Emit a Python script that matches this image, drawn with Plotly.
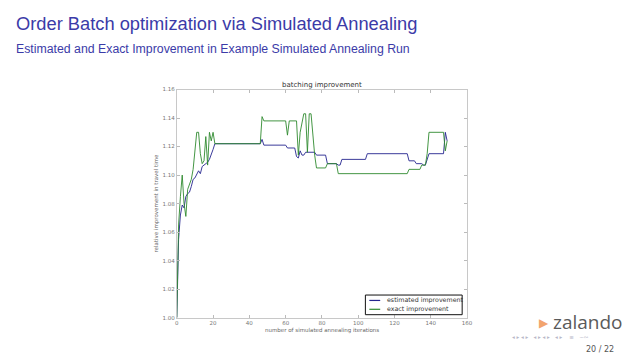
import plotly.graph_objects as go

# ---- data ----
est_iter = [0, 1, 2, 3, 4, 5, 6, 7, 8, 9, 10, 11, 12, 13, 14, 15, 16, 17, 18, 19, 20, 21,
            46, 47, 48, 60, 61, 65, 66, 67, 68, 69, 70, 71, 76, 77, 82, 83, 88, 89, 90,
            91, 104, 105, 127, 128, 131, 132, 135, 136, 137, 139, 147, 148, 149]
est_val = [1.000, 1.055, 1.072, 1.079, 1.077, 1.085, 1.087, 1.088, 1.092, 1.097, 1.098,
           1.101, 1.103, 1.101, 1.106, 1.107, 1.108, 1.109, 1.111, 1.114, 1.118, 1.122,
           1.122, 1.125, 1.121, 1.121, 1.119, 1.119, 1.113, 1.112, 1.117, 1.114, 1.114,
           1.116, 1.116, 1.114, 1.114, 1.108, 1.108, 1.107, 1.107, 1.111, 1.111, 1.115,
           1.115, 1.110, 1.110, 1.108, 1.108, 1.107, 1.107, 1.115, 1.115, 1.130, 1.124]

exact_iter = [0, 1, 2, 3, 4, 5, 6, 7, 8, 9, 10, 11, 12, 13, 14, 15, 16, 17, 18, 19, 20, 21,
              46, 47, 48, 60, 61, 62, 66, 67, 68, 70, 71, 72, 73, 74, 76, 77, 82, 83, 88,
              89, 127, 128, 134, 135, 137, 138, 139, 147, 148, 149]
exact_val = [1.000, 1.065, 1.085, 1.100, 1.080, 1.071, 1.090, 1.093, 1.097, 1.104, 1.120,
             1.130, 1.130, 1.115, 1.108, 1.110, 1.127, 1.107, 1.130, 1.124, 1.130, 1.122,
             1.122, 1.141, 1.138, 1.138, 1.128, 1.138, 1.138, 1.114, 1.130, 1.143, 1.143,
             1.116, 1.143, 1.143, 1.114, 1.105, 1.105, 1.108, 1.108, 1.101, 1.101, 1.104,
             1.104, 1.107, 1.107, 1.115, 1.130, 1.130, 1.117, 1.124]

series_names = ["estimated improvement", "exact improvement"]
series_colors = ["#25258f", "#2f8a2f"]

x_ticks = [0, 20, 40, 60, 80, 100, 120, 140, 160]
y_ticks = [1.00, 1.02, 1.04, 1.06, 1.08, 1.10, 1.12, 1.14, 1.16]

W, H = 638, 359
TITLE_COLOR = "#3b3ba8"


def px(x):
    return x / W


def py(y):
    return 1 - y / H


fig = go.Figure()
fig.add_trace(go.Scatter(x=est_iter, y=est_val, mode="lines", name=series_names[0],
                         line=dict(color=series_colors[0], width=0.9), showlegend=False))
fig.add_trace(go.Scatter(x=exact_iter, y=exact_val, mode="lines", name=series_names[1],
                         line=dict(color=series_colors[1], width=0.9), showlegend=False))

axis_common = dict(showgrid=False, zeroline=False, showline=True, linecolor="#c8c8c8",
                   linewidth=1, mirror="ticks", ticks="inside", ticklen=3,
                   tickcolor="#bbbbbb", tickfont=dict(size=5.5, color="#777777",
                                                      family="DejaVu Sans"))
fig.update_layout(
    width=W, height=H, autosize=False,
    margin=dict(l=0, r=0, t=0, b=0),
    paper_bgcolor="white", plot_bgcolor="white",
    xaxis=dict(domain=[px(177), px(471)], range=[0, 160], tickvals=x_ticks,
               ticktext=[str(v) for v in x_ticks], **axis_common),
    yaxis=dict(domain=[py(320), py(88)], range=[1.00, 1.16], tickvals=y_ticks,
               ticktext=[f"{v:.2f}" for v in y_ticks], **axis_common),
    showlegend=False,
)

# legend drawn by hand (matplotlib-style compact box)
shapes = [
    dict(type="rect", xref="paper", yref="paper", x0=px(368), x1=px(466),
         y0=py(317), y1=py(297), line=dict(color="#111111", width=1),
         fillcolor="white", layer="above"),
]
annotations = []
for i, (name, col) in enumerate(zip(series_names, series_colors)):
    yy = 302.5 + i * 9
    shapes.append(dict(type="line", xref="paper", yref="paper", x0=px(372), x1=px(383),
                       y0=py(yy), y1=py(yy), line=dict(color=col, width=1.2),
                       layer="above"))
    annotations.append(dict(text=name, x=px(388), y=py(yy), xref="paper", yref="paper",
                            xanchor="left", yanchor="middle", showarrow=False,
                            font=dict(size=6.3, color="#333333", family="DejaVu Sans")))

annotations += [
    dict(text="Order Batch optimization via Simulated Annealing", x=px(12), y=py(21),
         xref="paper", yref="paper", xanchor="left", yanchor="middle", showarrow=False,
         font=dict(size=18.3, color=TITLE_COLOR, family="Liberation Sans")),
    dict(text="Estimated and Exact Improvement in Example Simulated Annealing Run",
         x=px(12), y=py(47), xref="paper", yref="paper", xanchor="left",
         yanchor="middle", showarrow=False,
         font=dict(size=12.3, color=TITLE_COLOR, family="Liberation Sans")),
    dict(text="batching improvement", x=px(324), y=py(83), xref="paper", yref="paper",
         xanchor="center", yanchor="middle", showarrow=False,
         font=dict(size=7, color="#333333", family="DejaVu Sans")),
    dict(text="number of simulated annealing iterations", x=px(324), y=py(333),
         xref="paper", yref="paper", xanchor="center", yanchor="middle", showarrow=False,
         font=dict(size=5.5, color="#666666", family="DejaVu Sans")),
    dict(text="relative improvement in travel time", x=px(157), y=py(204),
         xref="paper", yref="paper", xanchor="center", yanchor="middle", showarrow=False,
         textangle=-90, font=dict(size=5.5, color="#666666", family="DejaVu Sans")),
    dict(text="▶", x=px(549), y=py(325), xref="paper", yref="paper",
         xanchor="center", yanchor="middle", showarrow=False,
         font=dict(size=12, color="#f2a46e", family="DejaVu Sans")),
    dict(text="zalando", x=px(556), y=py(324), xref="paper", yref="paper",
         xanchor="left", yanchor="middle", showarrow=False,
         font=dict(size=19, color="#5a5a5a", family="Open Sans")),
    dict(text="◂ ▸ ◂ ▸   ◂ ▸ ◂ ▸   ◂ ▸    ≡   ∽∾", x=px(514), y=py(340), xref="paper",
         yref="paper", xanchor="left", yanchor="middle", showarrow=False,
         font=dict(size=5.5, color="#b8b8c8", family="DejaVu Sans")),
    dict(text="20 / 22", x=px(622), y=py(352), xref="paper", yref="paper",
         xanchor="right", yanchor="middle", showarrow=False,
         font=dict(size=8, color="#555555", family="DejaVu Sans")),
]
fig.update_layout(annotations=annotations, shapes=shapes)

fig.write_html("out.html",
               config={"displayModeBar": False, "staticPlot": True},
               post_script="document.body.style.margin='0';"
                           "document.body.style.padding='0';"
                           "document.body.style.overflow='hidden';")
